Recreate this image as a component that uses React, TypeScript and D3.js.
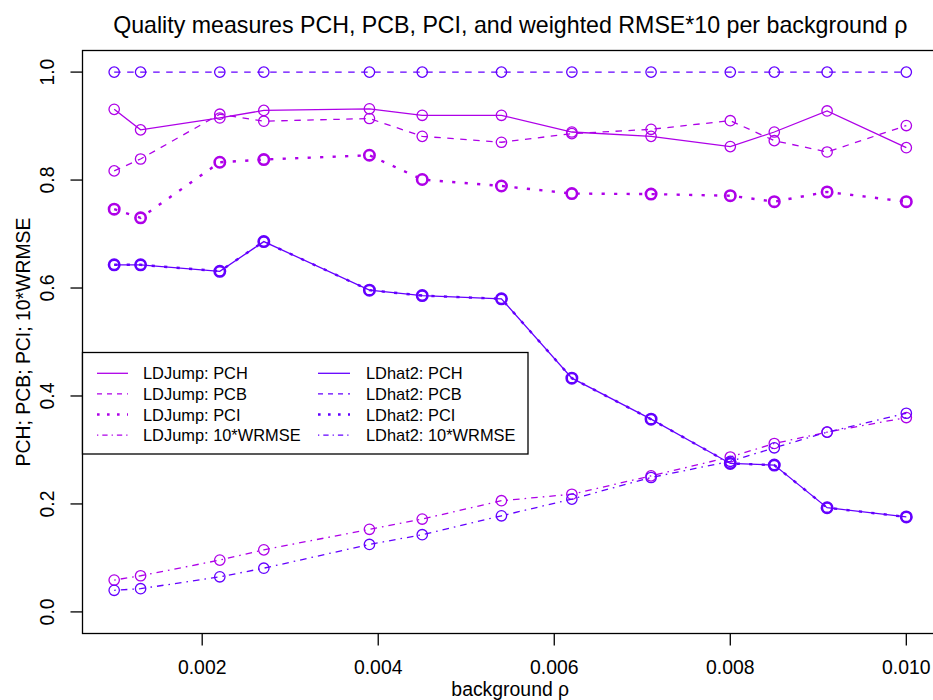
import React from "react";
import * as d3 from "d3";

// Background recombination rates
const rho = [0.001, 0.0013, 0.0022, 0.0027, 0.0039, 0.0045, 0.0054, 0.0062, 0.0071, 0.008, 0.0085, 0.0091, 0.01];

// LDJump quality measures
const ldjumpPCH = [0.931, 0.893, 0.915, 0.929, 0.932, 0.92, 0.92, 0.889, 0.881, 0.862, 0.889, 0.928, 0.86];
const ldjumpPCB = [0.817, 0.839, 0.922, 0.909, 0.914, 0.881, 0.87, 0.886, 0.894, 0.91, 0.873, 0.852, 0.901];
const ldjumpPCI = [0.746, 0.73, 0.833, 0.838, 0.846, 0.801, 0.789, 0.775, 0.774, 0.771, 0.76, 0.778, 0.76];
const ldjumpWRMSE = [0.059, 0.067, 0.096, 0.115, 0.153, 0.172, 0.206, 0.218, 0.252, 0.287, 0.312, 0.333, 0.36];

// LDhat2 quality measures
const ldhat2PCH = [0.643, 0.643, 0.631, 0.686, 0.596, 0.586, 0.58, 0.433, 0.357, 0.275, 0.272, 0.193, 0.176];
const ldhat2PCB = [1, 1, 1, 1, 1, 1, 1, 1, 1, 1, 1, 1, 1];
const ldhat2PCI = [0.643, 0.643, 0.631, 0.686, 0.596, 0.586, 0.58, 0.433, 0.357, 0.275, 0.272, 0.193, 0.176];
const ldhat2WRMSE = [0.04, 0.043, 0.065, 0.081, 0.125, 0.143, 0.178, 0.209, 0.249, 0.279, 0.304, 0.333, 0.368];

const xTicks = [0.002, 0.004, 0.006, 0.008, 0.01];
const yTicks = [0, 0.2, 0.4, 0.6, 0.8, 1.0];

const COL_LDJUMP = "#AE00E8";
const COL_LDHAT2 = "#6400FF";

type Style = { dash: string; legDash: string; width: number; ptWidth: number };
const STYLES: Record<string, Style> = {
  PCH: { dash: "none", legDash: "none", width: 1.3, ptWidth: 1.3 },
  PCB: { dash: "6.5,6.5", legDash: "5,5", width: 1.3, ptWidth: 1.3 },
  PCI: { dash: "3.2,9.3", legDash: "2.6,7.4", width: 2.4, ptWidth: 2.6 },
  WRMSE: { dash: "1.6,5,6.6,5", legDash: "1.3,4,5.3,4", width: 1.3, ptWidth: 1.3 },
};

const series = [
  { name: "LDJump: PCH", values: ldjumpPCH, color: COL_LDJUMP, kind: "PCH" },
  { name: "LDJump: PCB", values: ldjumpPCB, color: COL_LDJUMP, kind: "PCB" },
  { name: "LDJump: PCI", values: ldjumpPCI, color: COL_LDJUMP, kind: "PCI" },
  { name: "LDJump: 10*WRMSE", values: ldjumpWRMSE, color: COL_LDJUMP, kind: "WRMSE" },
  { name: "LDhat2: PCH", values: ldhat2PCH, color: COL_LDHAT2, kind: "PCH" },
  { name: "LDhat2: PCB", values: ldhat2PCB, color: COL_LDHAT2, kind: "PCB" },
  { name: "LDhat2: PCI", values: ldhat2PCI, color: COL_LDHAT2, kind: "PCI" },
  { name: "LDhat2: 10*WRMSE", values: ldhat2WRMSE, color: COL_LDHAT2, kind: "WRMSE" },
];

const W = 933;
const H = 700;
const FONT = "'Liberation Sans', Arial, Helvetica, sans-serif";

export default function App() {
  const left = 82.5;
  const right = 938;
  const top = 50.5;
  const bottom = 633.5;

  const x = d3.scaleLinear().domain([0.00064, 0.01036]).range([left, right]);
  const y = d3.scaleLinear().domain([-0.04, 1.04]).range([bottom, top]);

  const line = d3
    .line<number>()
    .x((_, i) => x(rho[i]))
    .y((v) => y(v));

  const fmtX = d3.format(".3f");
  const fmtY = d3.format(".1f");

  const legTop = 352.5;
  const legRow = 20.6;
  const legCols = [
    { lineX0: 97, lineX1: 128, textX: 143 },
    { lineX0: 318, lineX1: 350, textX: 366 },
  ];

  return (
    <svg
      width={W}
      height={H}
      viewBox={`0 0 ${W} ${H}`}
      style={{ position: "absolute", left: 0, top: 0, background: "#fff" }}
      fontFamily={FONT}
    >
      <rect x={0} y={0} width={W} height={H} fill="#fff" />

      {/* title */}
      <text x={(left + right) / 2} y={33} textAnchor="middle" fontSize={23.2} fill="#000">
        Quality measures PCH, PCB, PCI, and weighted RMSE*10 per background ρ
      </text>

      {/* series */}
      {series.map((s) => {
        const st = STYLES[s.kind];
        return (
          <g key={s.name}>
            <path
              d={line(s.values) || ""}
              fill="none"
              stroke={s.color}
              strokeWidth={st.width}
              strokeDasharray={st.dash}
            />
            {s.values.map((v, i) => (
              <circle
                key={i}
                cx={x(rho[i])}
                cy={y(v)}
                r={5.2}
                fill="none"
                stroke={s.color}
                strokeWidth={st.ptWidth}
              />
            ))}
          </g>
        );
      })}

      {/* plot frame */}
      <rect x={left} y={top} width={right - left} height={bottom - top} fill="none" stroke="#000" strokeWidth={1.3} />

      {/* x axis */}
      {xTicks.map((t) => (
        <g key={t}>
          <line x1={x(t)} x2={x(t)} y1={bottom} y2={bottom + 12} stroke="#000" strokeWidth={1.3} />
          <text x={x(t)} y={673.8} textAnchor="middle" fontSize={19.4} fill="#000">
            {fmtX(t)}
          </text>
        </g>
      ))}
      <text x={(left + right) / 2} y={695.5} textAnchor="middle" fontSize={19.4} fill="#000">
        background ρ
      </text>

      {/* y axis */}
      {yTicks.map((t) => (
        <g key={t}>
          <line x1={left - 12} x2={left} y1={y(t)} y2={y(t)} stroke="#000" strokeWidth={1.3} />
          <text
            transform={`translate(${53.5},${y(t)}) rotate(-90)`}
            textAnchor="middle"
            fontSize={19.4}
            fill="#000"
          >
            {fmtY(t)}
          </text>
        </g>
      ))}
      <text
        transform={`translate(${30},${(top + bottom) / 2}) rotate(-90)`}
        textAnchor="middle"
        fontSize={19.4}
        fill="#000"
      >
        PCH; PCB; PCI; 10*WRMSE
      </text>

      {/* legend */}
      <rect x={left} y={legTop} width={528 - left} height={454 - legTop} fill="#fff" stroke="#000" strokeWidth={1.3} />
      {series.map((s, k) => {
        const col = legCols[Math.floor(k / 4)];
        const row = k % 4;
        const cy = legTop + 20.8 + row * legRow;
        const st = STYLES[s.kind];
        return (
          <g key={s.name}>
            <line
              x1={col.lineX0}
              x2={col.lineX1}
              y1={cy}
              y2={cy}
              stroke={s.color}
              strokeWidth={st.width}
              strokeDasharray={st.legDash}
            />
            <text x={col.textX} y={cy + 6} fontSize={16.4} fill="#000">
              {s.name}
            </text>
          </g>
        );
      })}
    </svg>
  );
}
